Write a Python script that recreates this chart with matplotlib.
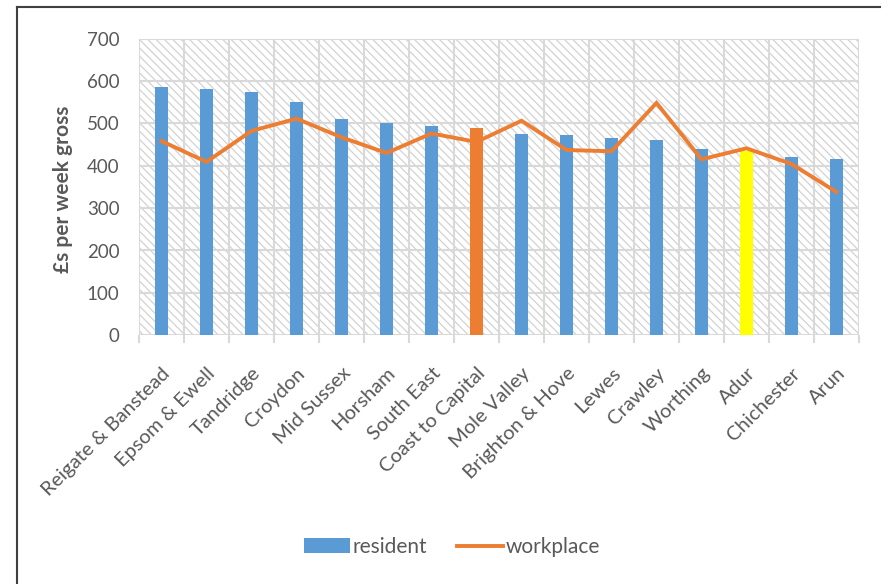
import matplotlib
matplotlib.use("Agg")
import matplotlib.pyplot as plt
import numpy as np
from matplotlib.patches import Rectangle, Patch
from matplotlib.lines import Line2D

categories = ["Reigate & Banstead", "Epsom & Ewell", "Tandridge", "Croydon", "Mid Sussex",
              "Horsham", "South East", "Coast to Capital", "Mole Valley", "Brighton & Hove",
              "Lewes", "Crawley", "Worthing", "Adur", "Chichester", "Arun"]
resident = [585, 581, 573, 551, 511, 500, 493, 490, 475, 472, 466, 460, 439, 434, 421, 415]
workplace = [458, 409, 482, 511, 467, 430, 476, 456, 506, 437, 434, 548, 415, 441, 404, 338]
yticks = [0, 100, 200, 300, 400, 500, 600, 700]

BLUE = "#5B9BD5"
ORANGE = "#ED7D31"
YELLOW = "#FFFF00"
TXT = "#595959"
GRID = "#D9D9D9"

bar_colors = [BLUE] * len(categories)
bar_colors[categories.index("Coast to Capital")] = ORANGE
bar_colors[categories.index("Adur")] = YELLOW

plt.rcParams["font.family"] = ["Lato", "DejaVu Sans"]
plt.rcParams["hatch.linewidth"] = 0.9
plt.rcParams["hatch.color"] = "#D2D2D2"

fig = plt.figure(figsize=(8.81, 5.84), dpi=100)
ax = fig.add_axes([139 / 881, 1 - 335.3 / 584, (859 - 139) / 881, (335.3 - 38.5) / 584])

n = len(categories)
x = np.arange(n)
ax.set_xlim(-0.5, n - 0.5)
ax.set_ylim(0, 700)

# hatched background
bg = Rectangle((0, 0), 1, 1, transform=ax.transAxes, facecolor="white",
               edgecolor="#D2D2D2", hatch="\\\\\\\\", linewidth=0, zorder=0)
ax.add_patch(bg)

# grid
for yv in yticks:
    ax.axhline(yv, color=GRID, lw=1.5, zorder=1)
for xb in np.arange(-0.5, n, 1.0):
    ax.axvline(xb, color=GRID, lw=1.5, zorder=1)

ax.bar(x, resident, width=0.28, color=bar_colors, zorder=2, label="resident")
ax.plot(x, workplace, color=ORANGE, lw=2.8, zorder=3, solid_joinstyle="miter", label="workplace")

for s in ax.spines.values():
    s.set_visible(False)

ax.set_yticks(yticks)
ax.set_yticklabels([str(v) for v in yticks], color=TXT, fontsize=13.5)
ax.tick_params(axis="y", length=0, pad=14)

ax.set_xticks(np.arange(-0.5, n, 1.0), minor=False)
ax.set_xticklabels([])
ax.tick_params(axis="x", length=6, width=1.5, color=GRID)
ax.set_xticks(x, minor=True)
ax.set_xticklabels(categories, minor=True, rotation=45, ha="right", va="top",
                   rotation_mode="anchor", color=TXT, fontsize=14.5)
ax.tick_params(axis="x", which="minor", length=0, pad=21)

fig.text(63 / 881, 1 - 189 / 584, "£s per week gross", rotation=90, ha="center", va="center",
         color=TXT, fontsize=15, fontweight="bold")

handles = [Patch(facecolor=BLUE, edgecolor="none", label="resident"),
           Line2D([], [], color=ORANGE, lw=2.8, label="workplace")]
fig.legend(handles=handles, loc="center", bbox_to_anchor=(452 / 881, 1 - 547 / 584), ncol=2,
           frameon=False, fontsize=15, handlelength=2.2, handletextpad=0.15,
           columnspacing=1.4, labelcolor=TXT)

# outer border (partially visible)
fig.add_artist(Line2D([17 / 881, 1.0], [1 - 7 / 584, 1 - 7 / 584], transform=fig.transFigure,
                      color="#404040", lw=1.5))
fig.add_artist(Line2D([17 / 881, 17 / 881], [1 - 7 / 584, 0.0], transform=fig.transFigure,
                      color="#404040", lw=1.5))

fig.savefig("out.png", dpi=100)
